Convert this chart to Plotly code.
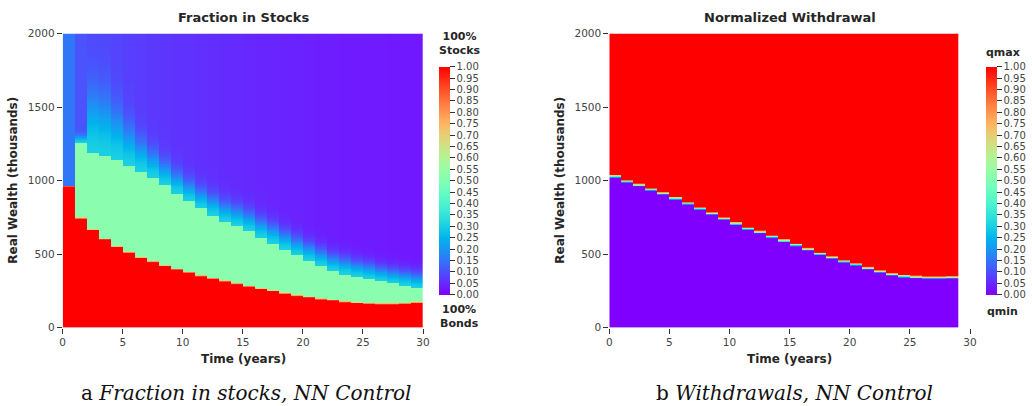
import numpy as np
import plotly.graph_objects as go

# ---------------- data ----------------
years_a = list(range(30))            # columns of panel a (cell t spans t..t+1)
red_top = [961, 745, 666, 602, 552, 514, 477, 448, 421, 396, 375, 352, 334, 316, 298,
           280, 266, 250, 234, 218, 207, 196, 187, 177, 170, 164, 162, 162, 164, 173]
green_top = [961, 1257, 1185, 1165, 1140, 1100, 1062, 1020, 968, 912, 858, 808, 762, 718, 690,
             655, 612, 572, 532, 490, 455, 418, 385, 362, 345, 330, 314, 298, 284, 270]
green_value = 0.52
edge_value = [0.155] + [0.30] * 29
upper_value = [0.155, 0.105, 0.09, 0.09, 0.085, 0.08, 0.075, 0.07, 0.068, 0.065, 0.062, 0.06,
               0.058, 0.055, 0.052, 0.05, 0.048, 0.046, 0.044, 0.042, 0.04, 0.038, 0.036, 0.035,
               0.034, 0.033, 0.032, 0.031, 0.03, 0.03]
fade_len = [1, 45, 380, 360, 300, 240, 190, 160, 140, 130, 125, 120, 120, 120, 120,
            120, 115, 115, 110, 110, 105, 105, 100, 100, 95, 95, 90, 90, 90, 90]
red_ramp = 12

years_b = list(range(29))            # columns of panel b
q_boundary = [1029, 995, 968, 939, 911, 879, 845, 809, 775, 739, 707, 673, 648, 618, 591,
              562, 532, 502, 475, 450, 430, 402, 380, 361, 350, 343, 339, 339, 341]
q_ramp = 22

x_ticks = [0, 5, 10, 15, 20, 25, 30]
y_ticks = [0, 500, 1000, 1500, 2000]
cb_ticks = [round(0.05 * i, 2) for i in range(21)]

# ---------------- build grids ----------------
ys = np.arange(2.5, 2000, 5.0)

za = np.zeros((len(ys), len(years_a)))
for j in range(len(years_a)):
    d = np.maximum(ys - green_top[j], 0)
    above = upper_value[j] + (edge_value[j] - upper_value[j]) * np.exp(-(d / fade_len[j]) ** 2)
    col = np.where(ys >= green_top[j], above, green_value)
    w = np.clip(((red_top[j] + red_ramp / 2) - ys) / red_ramp, 0, 1)
    za[:, j] = w * 1.0 + (1 - w) * col

zb = np.zeros((len(ys), len(years_b)))
for j in range(len(years_b)):
    zb[:, j] = np.clip((ys - (q_boundary[j] - q_ramp / 2)) / q_ramp, 0, 1)

# matplotlib 'rainbow' colormap
xs = np.linspace(0, 1, 41)
rr = np.clip(np.abs(2 * xs - 0.5), 0, 1)
gg = np.clip(np.sin(np.pi * xs), 0, 1)
bb = np.clip(np.cos(np.pi * xs / 2), 0, 1)
rainbow = [[float(x), f"rgb({int(round(r*255))},{int(round(g*255))},{int(round(b*255))})"]
           for x, r, g, b in zip(xs, rr, gg, bb)]

# ---------------- layout geometry ----------------
W, H = 1032, 406
def fx(p): return p / W
def fy(p): return 1 - p / H

TXT = "#262626"
TICK = "#444444"

def cbar(xleft):
    return dict(
        x=fx(xleft), xanchor="left", xpad=0, ypad=0,
        y=fy((66.7 + 294.7) / 2), yanchor="middle",
        len=228, lenmode="pixels", thickness=11, thicknessmode="pixels",
        outlinewidth=0, tickvals=cb_ticks, tickformat=".2f",
        ticks="outside", ticklen=5, tickwidth=1.2, tickcolor="#333333",
        tickfont=dict(size=10, color=TICK, family="DejaVu Sans"),
    )

fig = go.Figure()
fig.add_trace(go.Heatmap(z=za, x0=0.5, dx=1, y=ys, colorscale=rainbow, zmin=0, zmax=1,
                         zsmooth=False, xaxis="x", yaxis="y", colorbar=cbar(439.3),
                         hoverinfo="skip"))
fig.add_trace(go.Heatmap(z=zb, x0=0.5, dx=1, y=ys, colorscale=rainbow, zmin=0, zmax=1,
                         zsmooth=False, xaxis="x2", yaxis="y2", colorbar=cbar(986),
                         hoverinfo="skip"))

ax_common = dict(showgrid=False, zeroline=False, showline=False, ticks="outside",
                 ticklen=5, tickwidth=1.2, tickcolor="#333333", automargin=False,
                 tickfont=dict(size=10.5, color=TICK, family="DejaVu Sans"))

ydom = [fy(327.7), fy(33.5)]
fig.update_layout(
    width=W, height=H, margin=dict(l=0, r=0, t=0, b=0, pad=0, autoexpand=False),
    paper_bgcolor="white", plot_bgcolor="white",
    font=dict(family="DejaVu Sans", color=TXT),
    showlegend=False,
    xaxis=dict(domain=[fx(62.7), fx(423.0)], range=[0, 30], tickvals=x_ticks, anchor="y", **ax_common),
    yaxis=dict(domain=ydom, range=[0, 2000], tickvals=y_ticks, anchor="x", **ax_common),
    xaxis2=dict(domain=[fx(609.3), fx(970.0)], range=[0, 30], tickvals=x_ticks, anchor="y2", **ax_common),
    yaxis2=dict(domain=ydom, range=[0, 2000], tickvals=y_ticks, anchor="x2", **ax_common),
)

def ann(text, x, y, size, bold=False, angle=0, family="DejaVu Sans", color=TXT):
    fig.add_annotation(text=f"<b>{text}</b>" if bold else text, x=fx(x), y=fy(y),
                       xref="paper", yref="paper", showarrow=False, textangle=angle,
                       xanchor="center", yanchor="middle",
                       font=dict(size=size, family=family, color=color))

ann("Fraction in Stocks", 243, 17, 13, bold=True)
ann("Normalized Withdrawal", 790, 17, 13, bold=True)
ann("Time (years)", 243, 359, 12, bold=True)
ann("Time (years)", 789, 359, 12, bold=True)
ann("Real Wealth (thousands)", 13, 180.7, 12, bold=True, angle=-90)
ann("Real Wealth (thousands)", 560, 180.7, 12, bold=True, angle=-90)
ann("100%<br>Stocks", 459.5, 44, 11, bold=True)
ann("100%<br>Bonds", 459.5, 316, 11, bold=True)
ann("qmax", 1003, 52, 11, bold=True)
ann("qmin", 1002, 311, 11, bold=True)
ann("a <i>Fraction in stocks, NN Control</i>", 246, 393, 20, family="DejaVu Serif", color="#111111")
ann("b <i>Withdrawals, NN Control</i>", 794, 393, 20, family="DejaVu Serif", color="#111111")

fig.write_html("out.html")
